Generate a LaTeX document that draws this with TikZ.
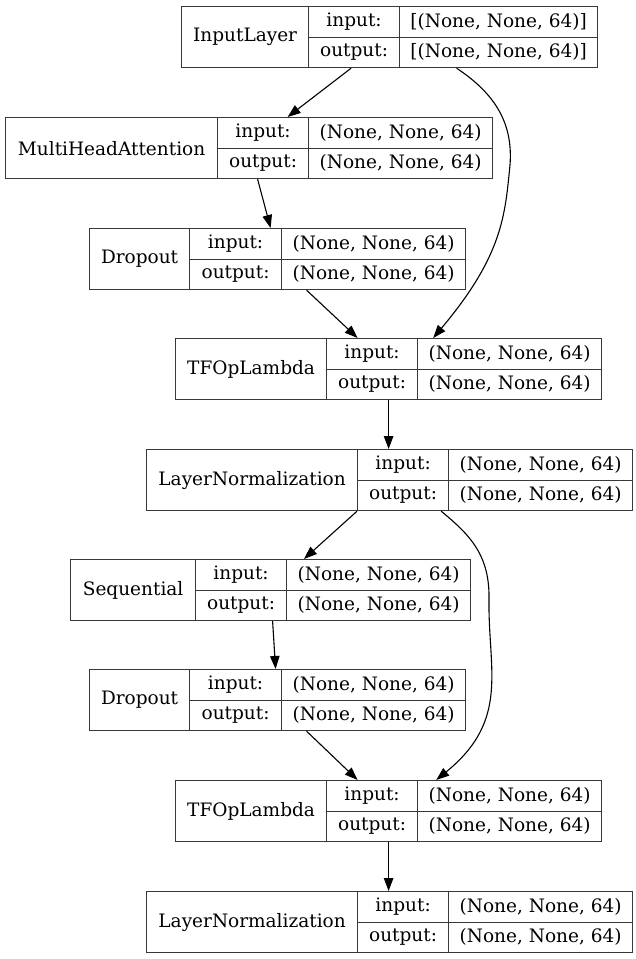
\documentclass[tikz,border=0pt]{standalone}
\usepackage{fontspec}
\setmainfont{DejaVu Serif}
\usetikzlibrary{arrows.meta}

\begin{document}
\begin{tikzpicture}[x=1pt,y=-1pt]
  \tikzstyle{every node}=[draw=black!78,line width=1.2pt,inner sep=0pt,anchor=north west,font=\fontsize{18.5}{20}\selectfont]
  \tikzstyle{edge}=[-{Triangle[length=13pt,width=9.5pt]},line width=1.1pt]

  \useasboundingbox (0,0) rectangle (636,959);

  % Define the layers: id/type/left/labels/values/right/top/shape
  \foreach \id/\lname/\xl/\xa/\xb/\xr/\yt/\shp in {
      inp/InputLayer/181/308/399/597/6/{[(None, None, 64)]},
      mha/MultiHeadAttention/5/217/308/492/117/{(None, None, 64)},
      d1/Dropout/89/189/281/465/228/{(None, None, 64)},
      tf1/TFOpLambda/175/326/417/601/338/{(None, None, 64)},
      ln1/LayerNormalization/146/357/448/632/449/{(None, None, 64)},
      seq/Sequential/70/195/286/470/559/{(None, None, 64)},
      d2/Dropout/89/189/281/465/669/{(None, None, 64)},
      tf2/TFOpLambda/175/326/417/601/780/{(None, None, 64)},
      ln2/LayerNormalization/146/357/448/632/891/{(None, None, 64)}} {
    \node[minimum width={\xa-\xl},minimum height=61] (\id) at (\xl,\yt) {\lname};
    \node[minimum width={\xb-\xa},minimum height=30.5] (\id-li) at (\xa,\yt) {input:};
    \node[minimum width={\xb-\xa},minimum height=30.5] (\id-lo) at (\xa,{\yt+30.5}) {output:};
    \node[minimum width={\xr-\xb},minimum height=30.5] (\id-vi) at (\xb,\yt) {\shp};
    \node[minimum width={\xr-\xb},minimum height=30.5] (\id-vo) at (\xb,{\yt+30.5}) {\shp};
  }

  % Draw the main path
  \draw[edge] ([xshift=-3]inp-lo.south) -- ([xshift=24.5]mha-li.north);
  \draw[edge] ([xshift=-5.5]mha-lo.south) -- ([xshift=35]d1-li.north);
  \draw[edge] ([xshift=-67]d1-vo.south) -- ([xshift=-14.5]tf1-li.north);
  \draw[edge] ([xshift=16.5]tf1-lo.south) -- ([xshift=-14.5]ln1-li.north);
  \draw[edge] (ln1-lo.south west) -- ([xshift=18]seq-vi.north west);
  \draw[edge] ([xshift=31.5]seq-lo.south) -- ([xshift=40]d2-li.north);
  \draw[edge] ([xshift=-67]d2-vo.south) -- ([xshift=-14.5]tf2-li.north);
  \draw[edge] ([xshift=16.5]tf2-lo.south) -- ([xshift=-14.5]ln2-li.north);

  % Draw the skip connections
  \coordinate (sk1) at (510,165);
  \coordinate (sk2) at (489,600);
  \draw[edge] ([xshift=-42]inp-vo.south) .. controls (497,95) and (513,125) .. (sk1)
    .. controls (505,215) and (503,255) .. ([xshift=15]tf1-li.north east);
  \draw[edge] ([xshift=-8]ln1-lo.south east) .. controls (470,535) and (490,555) .. (sk2)
    .. controls (488,670) and (510,720) .. ([xshift=18]tf2-li.north east);
\end{tikzpicture}
\end{document}
